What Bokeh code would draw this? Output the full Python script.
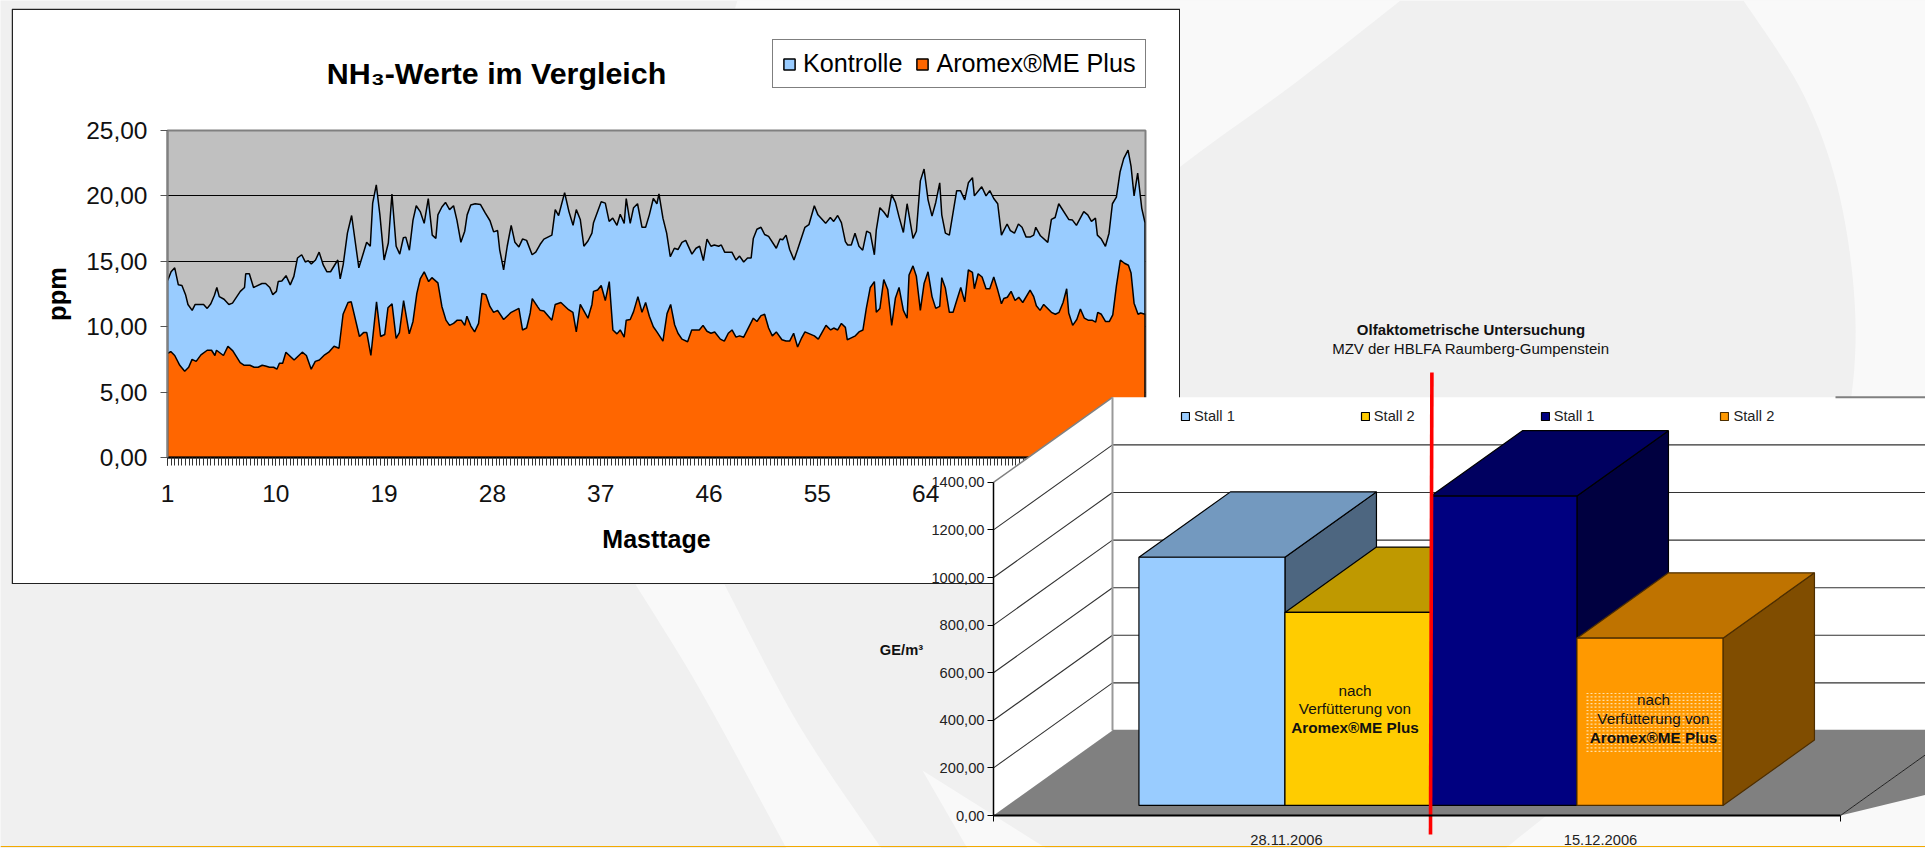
from bokeh.plotting import figure
from bokeh.embed import file_html
from bokeh.resources import INLINE
from bokeh.models import (Range1d, FixedTicker, LinearAxis, Label, Legend, LegendItem)
import numpy as np

FONT = "Liberation Sans"

# ---------- NH3 chart data (day, ppm)
kontrolle_day = [1.0,1.3,1.6,1.9,2.2,2.5,2.7,3.05,3.3,4.0,4.3,4.6,4.9,5.1,5.3,5.7,6.1,6.4,7.05,7.4,7.5,7.8,8.15,8.85,9.15,9.5,9.75,10.05,10.2,10.5,10.85,11.2,11.5,11.8,12.15,12.45,12.7,12.95,13.3,13.6,13.95,14.25,14.55,15.15,15.35,15.6,15.95,16.3,16.9,17.55,17.85,18.05,18.35,18.65,19.0,19.35,19.65,20.0,20.3,20.6,20.8,21.1,21.4,21.67,22.0,22.33,22.67,23.0,23.3,23.47,23.8,24.1,24.44,24.77,25.05,25.38,25.7,25.9,26.2,26.57,27.0,27.4,27.8,28.1,28.43,28.6,28.93,29.23,29.56,29.87,30.2,30.5,30.84,31.3,31.6,31.97,32.28,32.94,33.22,33.5,34.0,34.36,34.7,34.97,35.3,35.6,35.94,36.27,36.4,37.04,37.38,37.7,38.0,38.35,38.62,38.95,39.12,39.45,39.73,40.06,40.43,40.73,41.04,41.37,41.67,41.84,42.17,42.48,42.78,43.12,43.42,43.75,44.06,44.58,44.92,45.22,45.53,45.83,46.16,46.44,46.8,47.02,47.3,47.9,48.24,48.54,48.88,49.2,49.5,49.68,49.98,50.32,50.62,50.95,51.59,51.9,52.12,52.4,52.7,53.06,53.36,53.97,54.3,54.75,55.05,55.69,56.08,56.36,56.69,57.0,57.33,57.52,57.82,58.13,58.46,58.77,59.1,59.4,59.74,59.9,60.2,60.54,60.85,61.18,61.49,61.79,62.15,62.46,62.95,63.23,63.56,63.87,64.2,64.53,64.84,65.17,65.34,65.64,65.97,66.58,66.89,67.25,67.55,67.89,68.05,68.66,69.02,69.33,69.66,69.99,70.3,70.77,71.04,71.38,71.71,72.01,72.35,72.68,72.98,73.15,73.54,74.15,74.45,74.76,75.06,75.89,76.2,76.53,77.14,77.47,77.78,78.11,78.27,78.6,78.94,79.24,79.52,79.85,80.16,80.46,80.82,81.07,81.32,81.62,81.96,82.23]
kontrolle_ppm = [13.5,14.2,14.5,13.2,13.15,12.45,11.7,11.25,11.7,11.7,11.4,11.75,12.4,13.0,12.3,12.1,11.7,11.8,12.7,13.0,14.05,14.05,13.0,13.3,13.3,13.0,12.45,12.7,13.45,13.5,13.9,13.2,13.85,15.25,15.5,14.95,15.05,14.8,15.1,15.7,14.7,14.2,14.2,15.1,13.65,14.75,17.15,18.5,14.5,16.45,16.15,19.45,20.85,18.55,15.1,16.4,20.15,16.15,15.55,16.8,16.85,15.85,18.15,19.25,18.8,17.9,19.8,17.0,16.75,18.55,19.15,19.5,18.95,19.25,18.15,16.45,17.3,18.55,19.3,19.4,19.35,18.7,18.1,17.25,17.35,15.9,14.35,16.15,17.75,16.45,16.1,16.7,16.6,15.5,15.7,16.3,16.7,17.0,18.95,18.5,20.25,18.8,17.75,18.95,18.2,16.15,16.55,17.15,17.95,19.55,19.45,18.05,18.3,17.75,18.6,17.9,19.8,17.9,19.1,19.4,17.6,17.6,18.55,19.8,19.4,20.15,18.3,17.15,15.35,16.0,15.9,16.45,16.6,15.55,16.0,16.15,15.05,16.7,16.15,16.25,16.15,16.25,15.7,15.7,15.1,15.4,14.95,15.25,15.25,16.75,17.45,17.6,17.05,16.9,16.0,16.7,16.65,17.0,15.9,15.1,15.9,17.6,17.8,19.25,18.55,17.9,18.35,18.05,18.5,17.95,16.5,16.25,16.25,17.15,16.15,15.85,17.3,17.15,15.5,17.4,19.1,18.75,18.35,20.1,19.5,18.4,17.2,19.4,16.75,17.3,21.15,22.05,19.7,18.45,19.5,21.0,18.55,17.15,17.0,20.4,20.4,19.7,21.0,21.4,20.0,20.7,20.0,20.4,19.8,19.4,17.0,17.85,17.35,17.15,17.85,17.6,16.85,16.85,17.0,17.6,16.95,16.45,18.2,18.35,19.4,18.2,18.15,17.75,18.8,18.55,18.05,18.3,17.0,16.7,16.15,17.15,19.4,19.9,21.85,22.85,23.5,22.25,20.0,21.75,19.05,17.95]
aromex_day = [1.0,1.27,1.6,2.02,2.43,2.76,3.04,3.38,3.78,4.3,4.66,4.94,5.07,5.65,6.02,6.43,7.04,7.38,7.85,8.2,8.53,8.87,9.14,9.48,9.82,10.09,10.3,10.57,10.84,11.52,12.2,12.54,12.94,13.28,13.62,14.06,14.4,14.84,15.25,15.59,16.0,16.27,16.95,17.29,17.56,17.9,18.37,18.71,19.05,19.32,19.66,20.0,20.27,20.62,21.09,21.4,21.72,22.0,22.33,22.7,22.97,23.47,23.8,24.14,24.44,24.77,25.08,25.41,25.7,25.88,26.21,26.52,26.85,27.13,27.46,27.79,28.1,28.43,28.93,29.56,30.2,30.5,30.84,31.14,31.31,31.78,31.97,32.28,32.94,33.22,33.69,34.33,34.69,34.97,35.3,35.94,36.27,36.4,36.74,37.04,37.38,37.71,38.01,38.35,38.62,38.95,39.12,39.45,39.73,40.09,40.43,40.73,41.04,41.37,41.67,42.17,42.51,42.81,43.14,43.42,43.75,44.22,44.56,45.19,45.5,45.83,46.16,46.47,46.94,47.27,47.6,47.91,48.24,48.54,48.88,49.68,49.98,50.32,50.62,50.95,51.26,51.59,52.06,52.4,52.7,53.03,53.36,53.7,53.97,54.75,55.08,55.72,56.11,56.36,56.69,57.0,57.33,57.49,57.82,58.16,58.46,58.79,59.07,59.4,59.74,59.9,60.2,60.52,60.85,61.18,61.49,61.79,62.15,62.46,62.62,62.95,63.23,63.56,63.87,64.2,64.53,64.84,65.17,65.34,65.64,65.97,66.28,66.58,66.92,67.25,67.55,67.89,68.05,68.36,68.69,69.02,69.33,69.66,69.99,70.3,70.49,70.79,71.1,71.43,71.74,72.07,72.68,72.98,73.2,73.51,73.81,74.45,74.78,75.09,75.42,75.72,75.89,76.22,76.56,76.86,77.19,77.5,77.83,78.13,78.3,78.6,78.94,79.27,79.55,79.85,80.18,80.52,80.85,81.07,81.32,81.65,81.87,82.23]
aromex_ppm = [7.95,8.1,7.8,7.05,6.6,6.9,7.5,7.35,7.85,8.2,8.2,7.8,8.2,7.8,8.5,8.15,7.25,7.05,7.05,6.9,6.9,7.05,7.0,6.9,6.9,6.75,7.2,7.2,8.05,7.45,8.05,7.8,6.75,7.35,7.45,7.85,8.05,8.5,8.35,10.95,11.85,11.9,9.25,9.55,9.55,7.8,11.9,9.25,9.4,11.45,11.75,9.1,9.55,12.0,9.45,10.4,12.55,13.65,14.2,13.45,13.75,13.35,11.55,10.5,10.1,10.25,10.5,10.5,10.1,10.8,10.05,9.6,10.25,12.55,12.45,11.55,11.1,11.25,10.55,11.1,11.4,9.75,9.9,11.05,12.15,11.5,11.25,11.2,10.5,11.7,11.85,11.3,11.1,9.6,11.7,10.65,11.7,12.7,12.8,13.15,12.0,13.45,9.75,9.45,9.75,9.2,10.5,10.55,11.15,12.3,11.1,11.85,10.8,10.0,9.6,8.9,11.0,11.7,10.15,9.5,9.05,8.85,9.75,9.75,10.1,9.65,9.5,9.6,9.05,8.9,9.5,9.75,9.2,9.3,9.2,10.65,10.4,10.85,10.95,9.9,9.3,9.6,9.0,8.9,8.9,9.5,8.45,9.15,9.6,9.3,9.05,10.1,9.75,9.9,9.75,10.25,9.95,9.0,9.15,9.3,9.6,9.75,11.4,13.0,13.45,11.1,11.4,13.6,12.85,10.1,12.2,13.0,11.25,10.65,13.95,14.65,13.85,11.25,13.3,14.2,12.3,11.4,11.55,13.75,12.95,11.1,11.1,12.0,13.0,11.9,14.35,14.15,12.9,14.05,13.8,12.9,12.9,13.8,12.8,11.75,12.15,12.25,12.7,12.0,12.25,11.85,12.8,12.3,11.6,11.25,11.7,11.1,10.95,11.1,11.85,12.9,11.05,10.1,10.55,11.35,10.65,10.5,10.5,10.35,11.1,10.95,10.4,10.4,10.9,13.1,15.1,14.85,14.7,14.1,11.8,10.95,11.05,10.95]
ppm_ticks = [0, 5, 10, 15, 20, 25]
ppm_labels = ["0,00", "5,00", "10,00", "15,00", "20,00", "25,00"]
day_ticks = [1, 10, 19, 28, 37, 46, 55, 64, 73, 82]

# ---------- Olfactometry chart data
ge_ticks = [0, 200, 400, 600, 800, 1000, 1200, 1400]
ge_labels = ["0,00", "200,00", "400,00", "600,00", "800,00", "1000,00", "1200,00", "1400,00"]
bar_names = ["Stall 1", "Stall 2", "Stall 1", "Stall 2"]
bar_values = [1043, 811, 1300, 703]
bar_colors = ["#99CCFF", "#FFCC00", "#000080", "#FF9900"]
bar_tops = ["#7399BF", "#BF9900", "#000060", "#BF7300"]
bar_sides = ["#4D6680", "#806600", "#000040", "#804D00"]
date_labels = ["28.11.2006", "15.12.2006"]

# ---------- page background
def smooth(pts, n=10):
    """Catmull-Rom curve through decorative outline points."""
    p = [pts[0]] + list(pts) + [pts[-1]]
    xs, ys = [], []
    for i in range(1, len(p) - 2):
        p0, p1, p2, p3 = [np.array(q, float) for q in p[i-1:i+3]]
        for t in np.linspace(0, 1, n, endpoint=False):
            c = 0.5 * (2*p1 + (p2-p0)*t + (2*p0-5*p1+4*p2-p3)*t*t + (3*p1-p0-3*p2+p3)*t**3)
            xs.append(c[0]); ys.append(c[1])
    xs.append(pts[-1][0]); ys.append(pts[-1][1])
    return xs, ys

bg = figure(width=1925, height=848, x_range=(0, 1925), y_range=(848, 0), toolbar_location=None,
            output_backend="svg", min_border=0, x_axis_type=None, y_axis_type=None,
            background_fill_color="#F0F0F0", border_fill_color="#F0F0F0", outline_line_color=None)
bg.grid.visible = False
LIGHT = "#F9F9F9"
cx, cy = smooth([(1743,0),(1805,98),(1842,209),(1855,344),(1835,466),(1780,577),(1682,700),(1505,848)])
bg.patch(cx + [1925,1925], cy + [848,0], fill_color=LIGHT, line_color=None)
tx, ty = smooth([(1400,0),(1290,86),(1180,166),(1040,280)])
bg.patch([737] + tx + [640], [0] + ty + [300], fill_color=LIGHT, line_color=None)
rx, ry = smooth([(724,584),(798,724),(881,848)])
lx, ly = smooth([(786,848),(700,690),(635,584)])
bg.patch(rx + lx, ry + ly, fill_color=LIGHT, line_color=None)
bg.patch([922,967,1046], [770,848,848], fill_color=LIGHT, line_color=None)
bg.line([0,1925],[846,846], line_color="#F2A900", line_width=1.2)
bg.styles = {"position":"absolute","left":"0px","top":"0px"}

# ---------- NH3 chart
c1 = figure(width=1169, height=576, x_range=Range1d(1, 82.27), y_range=Range1d(0, 25),
            toolbar_location=None, output_backend="svg",
            min_border_left=156, min_border_right=35, min_border_top=122, min_border_bottom=127,
            background_fill_color="#C0C0C0", border_fill_color="#FFFFFF",
            outline_line_color="#808080", outline_line_width=2,
            x_axis_label="Masttage", y_axis_label="ppm")
c1.styles = {"position":"absolute","left":"11px","top":"8px"}
c1.xgrid.visible = False
c1.ygrid.ticker = FixedTicker(ticks=ppm_ticks)
c1.ygrid.grid_line_color = "#000000"
c1.ygrid.grid_line_width = 1.2

SERIES_K = dict(fill_color="#99CCFF", line_color="#000000", line_width=1.5)
SERIES_A = dict(fill_color="#FF6600", line_color="#000000", line_width=1.5)
c1.patch([kontrolle_day[0]] + kontrolle_day + [kontrolle_day[-1]], [0] + kontrolle_ppm + [0], **SERIES_K)
c1.patch([aromex_day[0]] + aromex_day + [aromex_day[-1]], [0] + aromex_ppm + [0], **SERIES_A)

ax = c1.xaxis[0]
ax.ticker = FixedTicker(ticks=day_ticks, minor_ticks=list(np.arange(1, 82.3, 0.3)))
ax.major_tick_out = 8; ax.major_tick_in = 0
ax.minor_tick_out = 8; ax.minor_tick_in = 0
ax.major_tick_line_color = "#000000"; ax.minor_tick_line_color = "#333333"
ax.axis_line_color = "#000000"; ax.axis_line_width = 2
ax.major_label_text_font = FONT; ax.major_label_text_font_size = "24.5px"; ax.major_label_text_color = "#111111"
ax.major_label_standoff = 19
ax.axis_label_text_font = FONT; ax.axis_label_text_font_size = "25px"; ax.axis_label_text_font_style = "bold"
ax.axis_label_text_color = "#000000"; ax.axis_label_standoff = 20

ay = c1.yaxis[0]
ay.ticker = FixedTicker(ticks=ppm_ticks)
ay.major_label_overrides = dict(zip(ppm_ticks, ppm_labels))
ay.major_tick_out = 7; ay.major_tick_in = 0; ay.minor_tick_line_color = None
ay.major_tick_line_color = "#555555"
ay.axis_line_color = "#808080"; ay.axis_line_width = 2
ay.major_label_text_font = FONT; ay.major_label_text_font_size = "24.5px"; ay.major_label_text_color = "#111111"
ay.major_label_standoff = 13
ay.axis_label_text_font = FONT; ay.axis_label_text_font_size = "25.5px"; ay.axis_label_text_font_style = "bold"
ay.axis_label_text_color = "#000000"; ay.axis_label_standoff = 12

# box, title and legend of the NH3 chart: transparent overlay the size of its box
c3 = figure(width=1169, height=576, x_range=Range1d(0, 1169), y_range=Range1d(576, 0),
            toolbar_location=None, output_backend="svg", min_border=0, x_axis_type=None, y_axis_type=None,
            background_fill_color=None, border_fill_color=None, outline_line_color=None)
c3.styles = {"position":"absolute","left":"11px","top":"8px"}
c3.grid.visible = False
c3.patch([0.75, 1168.25, 1168.25, 0.75], [0.75, 0.75, 575.25, 575.25],
         fill_color=None, line_color="#222222", line_width=1.5)
c3.add_layout(Label(x=485, y=64, text="NH\u2083-Werte im Vergleich", text_align="center",
                    text_baseline="middle", text_font=FONT, text_font_size="30.4px",
                    text_font_style="bold", text_color="#000000"))
key_k = c3.patch([0.75, 0.75, 0.75], [0.75, 0.75, 0.75], **SERIES_K)
key_a = c3.patch([0.75, 0.75, 0.75], [0.75, 0.75, 0.75], **SERIES_A)
leg1 = Legend(items=[LegendItem(label="Kontrolle", renderers=[key_k]),
                     LegendItem(label="Aromex\u00aeME Plus", renderers=[key_a])],
              orientation="horizontal", location=(761, 496),
              glyph_width=14, glyph_height=14, label_standoff=7, spacing=13, padding=9, margin=0,
              label_text_font=FONT, label_text_font_size="25.2px", label_text_color="#000000",
              border_line_color="#000000", border_line_width=1.2,
              background_fill_color="#FFFFFF", background_fill_alpha=1)
c3.add_layout(leg1, "center")

# ---------- 3D bar chart: frame covers x=860 to the page edge, y=320 to the page bottom
PX_X = 146.0    # pixels per bar width
PX_Y = 0.238    # pixels per GE/m3
Y0 = 815
def X(px): return (px - 993) / PX_X
def Y(py): return (Y0 - py) / PX_Y
DX, DY = 119 / PX_X, 85 / PX_Y   # depth vector
def proj(x, v, d):
    return x + d * DX, v + d * DY
def poly(pts):
    xy = [proj(*q) for q in pts]
    return [a for a, _ in xy], [b for _, b in xy]

c2 = figure(width=1065, height=528, x_range=Range1d(X(860), X(1925)), y_range=Range1d(Y(848), Y(320)),
            toolbar_location=None, output_backend="svg", min_border=0,
            background_fill_color=None, border_fill_color=None, outline_line_color=None)
c2.styles = {"position":"absolute","left":"860px","top":"320px"}
c2.grid.visible = False
AX_END = X(1840)
BACK_END = X(1925) + 1

# walls
c2.patch(*poly([(0,0,1),(0,1400,1),(BACK_END,1400,1),(BACK_END,0,1)]), fill_color="#FFFFFF", line_color=None)
c2.patch(*poly([(0,0,0),(0,1400,0),(0,1400,1),(0,0,1)]), fill_color="#FFFFFF", line_color=None)
c2.patch(*poly([(0,0,0),(AX_END,0,0),(AX_END,0,1),(0,0,1)]), fill_color="#808080", line_color=None)
c2.patch(*poly([(AX_END,0,0),(AX_END,0,1),(BACK_END,0,1)]), fill_color="#808080", line_color=None)
# gridlines on back wall and left wall
for g in ge_ticks[1:-1]:
    xs, ys = poly([(0,g,0),(0,g,1),(BACK_END,g,1)])
    c2.line(xs, ys, line_color="#333333", line_width=1.1)
xs, ys = poly([(0,1400,0),(0,1400,1)])
c2.line(xs, ys, line_color="#808080", line_width=1.5)
xs, ys = poly([(X(1835)-DX,1400,1),(BACK_END,1400,1)])
c2.line(xs, ys, line_color="#808080", line_width=2)
xs, ys = poly([(0,0,1),(0,1400,1)])
c2.line(xs, ys, line_color="#999999", line_width=2)
xs, ys = poly([(0,0,1),(BACK_END,0,1)])
c2.line(xs, ys, line_color="#808080", line_width=1.5)
xs, ys = poly([(AX_END,0,0),(AX_END,0,1)])
c2.line(xs, ys, line_color="#222222", line_width=1)

# bars
FRONT_D, BACK_D = 0.118, 0.887
bar_left = 0.90
fronts = []
for i, v in enumerate(bar_values):
    x0, x1 = bar_left + i, bar_left + i + 1
    lc = "#000000" if i < 3 else "#4D2E00"
    c2.patch(*poly([(x1,0,FRONT_D),(x1,0,BACK_D),(x1,v,BACK_D),(x1,v,FRONT_D)]),
             fill_color=bar_sides[i], line_color=lc, line_width=1.2)
    c2.patch(*poly([(x0,v,FRONT_D),(x0,v,BACK_D),(x1,v,BACK_D),(x1,v,FRONT_D)]),
             fill_color=bar_tops[i], line_color=lc, line_width=1.2)
    fronts.append(c2.patch(*poly([(x0,0,FRONT_D),(x0,v,FRONT_D),(x1,v,FRONT_D),(x1,0,FRONT_D)]),
                           fill_color=bar_colors[i], line_color=lc, line_width=1.2))

# speckled text background on the fourth bar
rows = np.arange(693, 752, 3.4)
c2.multi_line([[X(1586), X(1721)] for _ in rows], [[Y(r), Y(r)] for r in rows],
              line_color="#FFE0A8", line_width=1.2, line_dash="2 2")

# red divider
c2.line([X(1431.4), X(1430)], [Y(372), Y(834)], line_color="#FF0000", line_width=3.6)

def lab(px, py, text, bold=False, align="center", size="15.3px"):
    c2.add_layout(Label(x=X(px), y=Y(py), text=text, text_align=align, text_baseline="middle",
                        text_font=FONT, text_font_size=size, text_color="#111111",
                        text_font_style="bold" if bold else "normal"))

lab(1470.5, 329, "Olfaktometrische Untersuchung", bold=True, size="15px")
lab(1470.5, 347.5, "MZV der HBLFA Raumberg-Gumpenstein", size="15px")
lab(901, 649, "GE/m\u00b3", bold=True, size="14.7px")
lab(1354.5, 689.5, "nach"); lab(1354.5, 708, "Verf\u00fctterung von"); lab(1354.5, 727, "Aromex\u00aeME Plus", bold=True)
lab(1653, 699, "nach"); lab(1653, 718, "Verf\u00fctterung von"); lab(1653, 737, "Aromex\u00aeME Plus", bold=True)

# axes standing at the data origin
ax2 = c2.xaxis[0]
ax2.fixed_location = 0
ax2.bounds = (0, AX_END)
date_pos = [X(1286), X(1600)]
ax2.ticker = FixedTicker(ticks=date_pos, minor_ticks=[0, AX_END])
ax2.major_label_overrides = dict(zip(date_pos, date_labels))
ax2.major_tick_out = 0; ax2.major_tick_in = 0
ax2.minor_tick_out = 6; ax2.minor_tick_in = 0
ax2.minor_tick_line_color = "#000000"
ax2.axis_line_color = "#000000"; ax2.axis_line_width = 1.8
ax2.major_label_text_font = FONT; ax2.major_label_text_font_size = "14.7px"; ax2.major_label_text_color = "#222222"
ax2.major_label_standoff = 13

ay2 = c2.yaxis[0]
ay2.fixed_location = 0
ay2.bounds = (0, 1400)
ay2.ticker = FixedTicker(ticks=ge_ticks)
ay2.major_label_overrides = dict(zip(ge_ticks, ge_labels))
ay2.major_tick_out = 6; ay2.major_tick_in = 0; ay2.minor_tick_line_color = None
ay2.major_tick_line_color = "#000000"
ay2.axis_line_color = "#000000"; ay2.axis_line_width = 1.5
ay2.major_label_text_font = FONT; ay2.major_label_text_font_size = "14.7px"; ay2.major_label_text_color = "#222222"
ay2.major_label_standoff = 3

leg2 = Legend(items=[LegendItem(label=bar_names[i], renderers=[fronts[i]]) for i in range(4)],
              orientation="horizontal", location=(320, 424),
              glyph_width=10, glyph_height=10, label_standoff=4, spacing=125, padding=0, margin=0,
              label_text_font=FONT, label_text_font_size="14.7px", label_text_color="#222222",
              border_line_color=None, background_fill_color=None)
c2.add_layout(leg2, "center")

open("out.html", "w").write(file_html((bg, c1, c3, c2), INLINE))
